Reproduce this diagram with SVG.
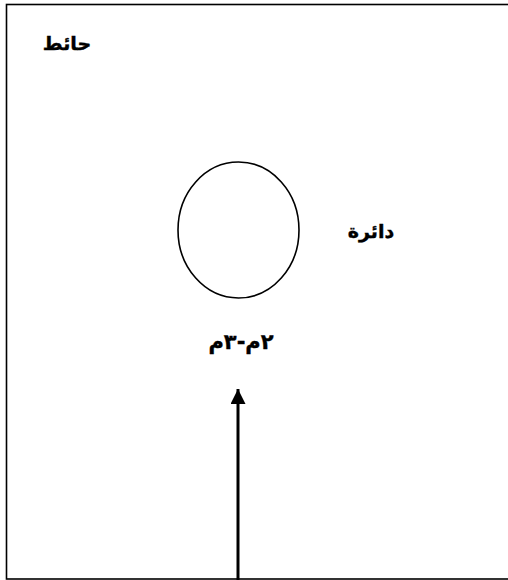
<svg xmlns="http://www.w3.org/2000/svg" width="508" height="580" viewBox="0 0 508 580">
<defs>
<style>
.lbl{font-family:"DejaVu Sans","Noto Sans",sans-serif;font-weight:bold;font-size:19px;fill:#000;direction:rtl;unicode-bidi:embed;stroke:#000;stroke-width:0.4}
.shape{fill:none;stroke:#000;stroke-width:1.6}
</style>
<marker id="ah" viewBox="0 0 10 10" refX="10" refY="5" markerWidth="5" markerHeight="5" orient="auto" markerUnits="strokeWidth">
<path d="M0,0 L10,5 L0,10 z" fill="#000"/>
</marker>
</defs>
<rect width="508" height="580" fill="#fff"/>
<g id="wall">
<rect class="shape" x="6.5" y="4.5" width="520" height="574.5"/>
<text class="lbl" x="67" y="50" text-anchor="middle">حائط</text>
</g>
<g id="circle">
<ellipse class="shape" cx="238.5" cy="230" rx="60.5" ry="68"/>
<text class="lbl" x="371" y="238" text-anchor="middle">دائرة</text>
<text class="lbl" x="241" y="349" text-anchor="middle" style="font-size:21px">٢م-٣م</text>
</g>
<g id="connectors">
<line x1="238" y1="580" x2="238" y2="389" stroke="#000" stroke-width="3" marker-end="url(#ah)"/>
</g>
</svg>
